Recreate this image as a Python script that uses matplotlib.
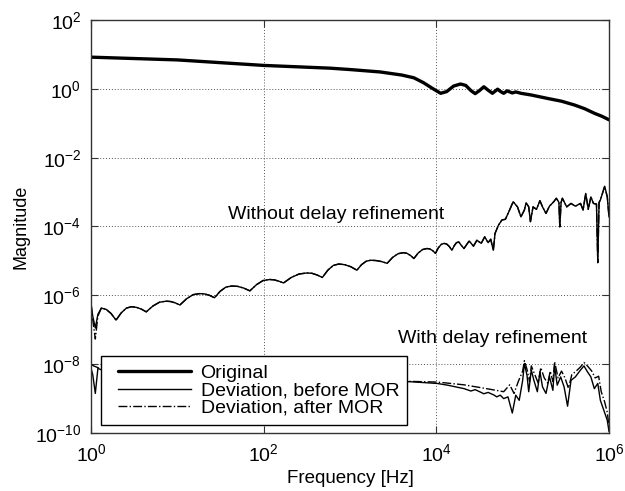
import numpy as np
import matplotlib
matplotlib.use("Agg")
import matplotlib.pyplot as plt
from matplotlib.ticker import FixedLocator, NullLocator
from matplotlib.lines import Line2D
from matplotlib.legend_handler import HandlerLine2D

plt.rcParams['font.family'] = ['Liberation Sans', 'DejaVu Sans']
plt.rcParams['mathtext.default'] = 'regular'

# log10 values
orig_fexp = [0.0, 1.0, 2.0, 2.77, 3.0, 3.35, 3.6, 3.74, 3.85, 3.95, 4.05, 4.12, 4.2, 4.28,
             4.34, 4.40, 4.45, 4.50, 4.55, 4.60, 4.65, 4.68, 4.71, 4.745, 4.78, 4.82,
             4.88, 4.92, 4.98, 5.1, 5.29, 5.45, 5.60, 5.72, 5.83, 5.92, 6.0]
orig_mexp = [0.92, 0.84, 0.68, 0.60, 0.56, 0.49, 0.40, 0.32, 0.18, 0.02, -0.13, -0.08, 0.08, 0.14,
             0.10, -0.05, -0.14, -0.05, 0.06, -0.04, -0.13, -0.07, -0.01, -0.08, -0.13, -0.06,
             -0.12, -0.09, -0.13, -0.18, -0.28, -0.36, -0.47, -0.58, -0.71, -0.80, -0.90]

# deviation without delay refinement
wo_fexp = [0.0, 0.02, 0.05, 0.08, 0.12, 0.177, 0.233, 0.29, 0.35, 0.41, 0.47, 0.527, 0.583, 0.64,
           0.717, 0.793, 0.87, 0.923, 0.977, 1.03, 1.107, 1.183, 1.26, 1.317, 1.373, 1.43, 1.497,
           1.563, 1.63, 1.70, 1.77, 1.84, 1.917, 1.993, 2.07, 2.123, 2.177, 2.23, 2.32, 2.41, 2.50,
           2.56, 2.62, 2.68, 2.743, 2.807, 2.87, 2.94, 3.01, 3.08, 3.133, 3.187, 3.24, 3.303, 3.367,
           3.43, 3.493, 3.557, 3.62, 3.66, 3.70, 3.74, 3.79, 3.84, 3.89, 3.923, 3.957, 3.99, 4.023,
           4.057, 4.09, 4.12, 4.15, 4.18, 4.207, 4.233, 4.26, 4.29, 4.32, 4.38, 4.43, 4.47, 4.52,
           4.56, 4.60, 4.63, 4.66, 4.68, 4.72, 4.76, 4.80, 4.84, 4.89, 4.94, 4.98, 5.02, 5.04, 5.07,
           5.09, 5.12, 5.16, 5.20, 5.23, 5.27, 5.31, 5.36, 5.39, 5.42, 5.43, 5.445, 5.46, 5.51, 5.56,
           5.61, 5.67, 5.70, 5.73, 5.76, 5.79, 5.82, 5.855, 5.87, 5.885, 5.90, 5.95, 5.98, 6.0]
wo_before = [-6.24, -6.6, -6.95, -6.55, -6.37, -6.41, -6.53, -6.72, -6.51, -6.37, -6.33, -6.35, -6.40, -6.48,
             -6.31, -6.20, -6.17, -6.18, -6.22, -6.28, -6.10, -5.98, -5.95, -5.96, -6.00, -6.07, -5.88,
             -5.76, -5.73, -5.74, -5.79, -5.87, -5.69, -5.57, -5.54, -5.55, -5.59, -5.64, -5.48, -5.38, -5.35,
             -5.36, -5.41, -5.48, -5.27, -5.13, -5.09, -5.11, -5.17, -5.27, -5.11, -5.01, -4.98, -4.99, -5.02,
             -5.07, -4.90, -4.79, -4.76, -4.78, -4.84, -4.93, -4.77, -4.67, -4.64, -4.65, -4.70, -4.78, -4.62,
             -4.52, -4.49, -4.51, -4.58, -4.69, -4.56, -4.47, -4.45, -4.55, -4.64, -4.42, -4.57, -4.40, -4.49,
             -4.30, -4.47, -4.37, -4.69, -4.20, -3.96, -3.81, -3.79, -3.57, -3.28, -3.43, -3.72, -3.52, -3.31, -3.43,
             -3.86, -3.43, -3.50, -3.25, -3.43, -3.62, -3.41, -3.28, -3.18, -3.30, -4.01, -3.30, -3.18, -3.43, -3.33,
             -3.41, -3.33, -3.52, -3.04, -3.50, -3.14, -3.33, -3.35, -5.05, -3.30, -3.23, -2.83, -3.14, -3.72]
wo_after = [-6.24, -6.7, -7.27, -6.6, -6.37, -6.41, -6.53, -6.72, -6.51, -6.37, -6.33, -6.35, -6.40, -6.48,
            -6.31, -6.20, -6.17, -6.18, -6.22, -6.28, -6.10, -5.98, -5.95, -5.96, -6.00, -6.07, -5.88,
            -5.76, -5.73, -5.74, -5.79, -5.87, -5.69, -5.57, -5.54, -5.55, -5.59, -5.64, -5.48, -5.38, -5.35,
            -5.36, -5.41, -5.48, -5.27, -5.13, -5.09, -5.11, -5.17, -5.27, -5.11, -5.01, -4.98, -4.99, -5.02,
            -5.07, -4.90, -4.79, -4.76, -4.78, -4.84, -4.93, -4.77, -4.67, -4.64, -4.65, -4.70, -4.78, -4.62,
            -4.52, -4.49, -4.51, -4.58, -4.69, -4.56, -4.47, -4.45, -4.55, -4.64, -4.42, -4.57, -4.40, -4.49,
            -4.30, -4.47, -4.37, -4.69, -4.20, -3.96, -3.81, -3.79, -3.57, -3.28, -3.43, -3.72, -3.52, -3.31, -3.43,
            -3.86, -3.43, -3.50, -3.25, -3.43, -3.62, -3.41, -3.28, -3.18, -3.30, -4.01, -3.30, -3.18, -3.43, -3.33,
            -3.41, -3.33, -3.52, -3.04, -3.50, -3.14, -3.33, -3.35, -5.05, -3.30, -3.23, -2.83, -3.14, -3.72]

# deviation with delay refinement
wd_fexp = [0.0, 0.02, 0.05, 0.08, 0.15, 1.0, 2.0, 3.0, 3.70, 4.01, 4.13, 4.32, 4.40, 4.45, 4.51,
           4.55, 4.60, 4.67, 4.70, 4.74, 4.78, 4.83, 4.88, 4.92, 4.96, 5.0, 5.02, 5.05, 5.07, 5.10,
           5.13, 5.17, 5.20, 5.23, 5.27, 5.31, 5.35, 5.37, 5.40, 5.44, 5.48, 5.52, 5.56, 5.61,
           5.67, 5.71, 5.75, 5.79, 5.83, 5.87, 5.90, 5.94, 5.98, 6.0]
wd_before = [-8.12, -8.3, -8.85, -8.12, -8.2, -8.3, -8.4, -8.45, -8.51, -8.56, -8.61, -8.71, -8.78, -8.74, -8.81,
             -8.86, -8.82, -8.90, -8.95, -8.90, -9.0, -8.95, -9.42, -8.90, -9.05, -8.47, -7.98, -8.32, -8.80, -8.17,
             -8.47, -8.80, -8.22, -8.66, -8.85, -8.36, -8.76, -8.05, -8.61, -8.37, -8.66, -9.22, -8.47, -8.37,
             -8.17, -8.05, -8.22, -8.37, -8.71, -8.56, -9.05, -9.34, -9.63, -9.95]
wd_after_fexp = [0.0, 0.03, 0.08, 0.15, 1.0, 2.0, 3.0, 3.7, 4.01, 4.13, 4.32, 4.51, 4.67, 4.78, 4.85,
                 4.9, 4.95, 5.0, 5.02, 5.05, 5.08, 5.10, 5.14, 5.18, 5.21, 5.25, 5.29, 5.32, 5.35, 5.37,
                 5.41, 5.45, 5.49, 5.53, 5.57, 5.62, 5.67, 5.71, 5.75, 5.80, 5.84, 5.88, 5.91, 5.95,
                 5.98, 6.0]
wd_after = [-8.0, -8.05, -8.1, -8.2, -8.3, -8.4, -8.45, -8.5, -8.52, -8.55, -8.6, -8.68, -8.75, -8.8, -8.6,
            -8.85, -8.5, -8.2, -7.9, -8.15, -8.5, -8.05, -8.3, -8.55, -8.1, -8.4, -8.55, -8.2, -8.5, -7.93,
            -8.4, -8.2, -8.4, -8.7, -8.3, -8.2, -8.08, -7.95, -8.05, -8.2, -8.4, -8.35, -8.8, -9.1,
            -9.4, -9.8]

xtick_exp = [0, 2, 4, 6]
ytick_exp = [-10, -8, -6, -4, -2, 0, 2]


def p10(a):
    return 10.0 ** np.asarray(a)


fig = plt.figure(figsize=(6.25, 4.91), dpi=100)
ax = fig.add_axes([0.1456, 0.1181, 0.8288, 0.8412])

ax.plot(p10(orig_fexp), p10(orig_mexp), color='black', lw=2.4, label='Original', solid_capstyle='round')
ax.plot(p10(wo_fexp), p10(wo_before), color='black', lw=1.0, label='Deviation, before MOR')
ax.plot(p10(wo_fexp), p10(wo_after), color='black', lw=1.0, ls='-.', label='Deviation, after MOR')
ax.plot(p10(wd_fexp), p10(wd_before), color='black', lw=1.0)
ax.plot(p10(wd_after_fexp), p10(wd_after), color='black', lw=1.0, ls='-.')

ax.set_xscale('log')
ax.set_yscale('log')
ax.set_xlim(1, 1e6)
ax.set_ylim(1e-10, 1e2)
ax.xaxis.set_major_locator(FixedLocator(p10(xtick_exp)))
ax.yaxis.set_major_locator(FixedLocator(p10(ytick_exp)))
ax.xaxis.set_minor_locator(NullLocator())
ax.yaxis.set_minor_locator(NullLocator())
ax.tick_params(direction='in', length=5, width=0.8, top=True, right=True,
               labelsize=14, color='#333333', pad=7)
ax.grid(True, which='major', ls=(0, (1, 2)), lw=0.7, color='#555555')
for s in ax.spines.values():
    s.set_color('#333333')
    s.set_linewidth(1.0)

ax.set_xlabel('Frequency [Hz]', fontsize=13.5)
ax.set_ylabel('Magnitude', fontsize=13)

ax.text(10 ** 1.59, 10 ** -3.64, 'Without delay refinement', fontsize=14, va='center', ha='left')
ax.text(10 ** 3.56, 10 ** -7.24, 'With delay refinement', fontsize=14, va='center', ha='left')

leg = ax.legend(loc='lower left', bbox_to_anchor=(0.02, 0.02), borderaxespad=0,
                fontsize=14, handlelength=4.2, frameon=True, fancybox=False,
                framealpha=1, edgecolor='black', borderpad=0.4, labelspacing=0.0,
                handletextpad=0.5, handler_map={Line2D: HandlerLine2D(xpad=0.45)})
leg.get_frame().set_linewidth(1.0)

fig.savefig('out.png', dpi=100)
